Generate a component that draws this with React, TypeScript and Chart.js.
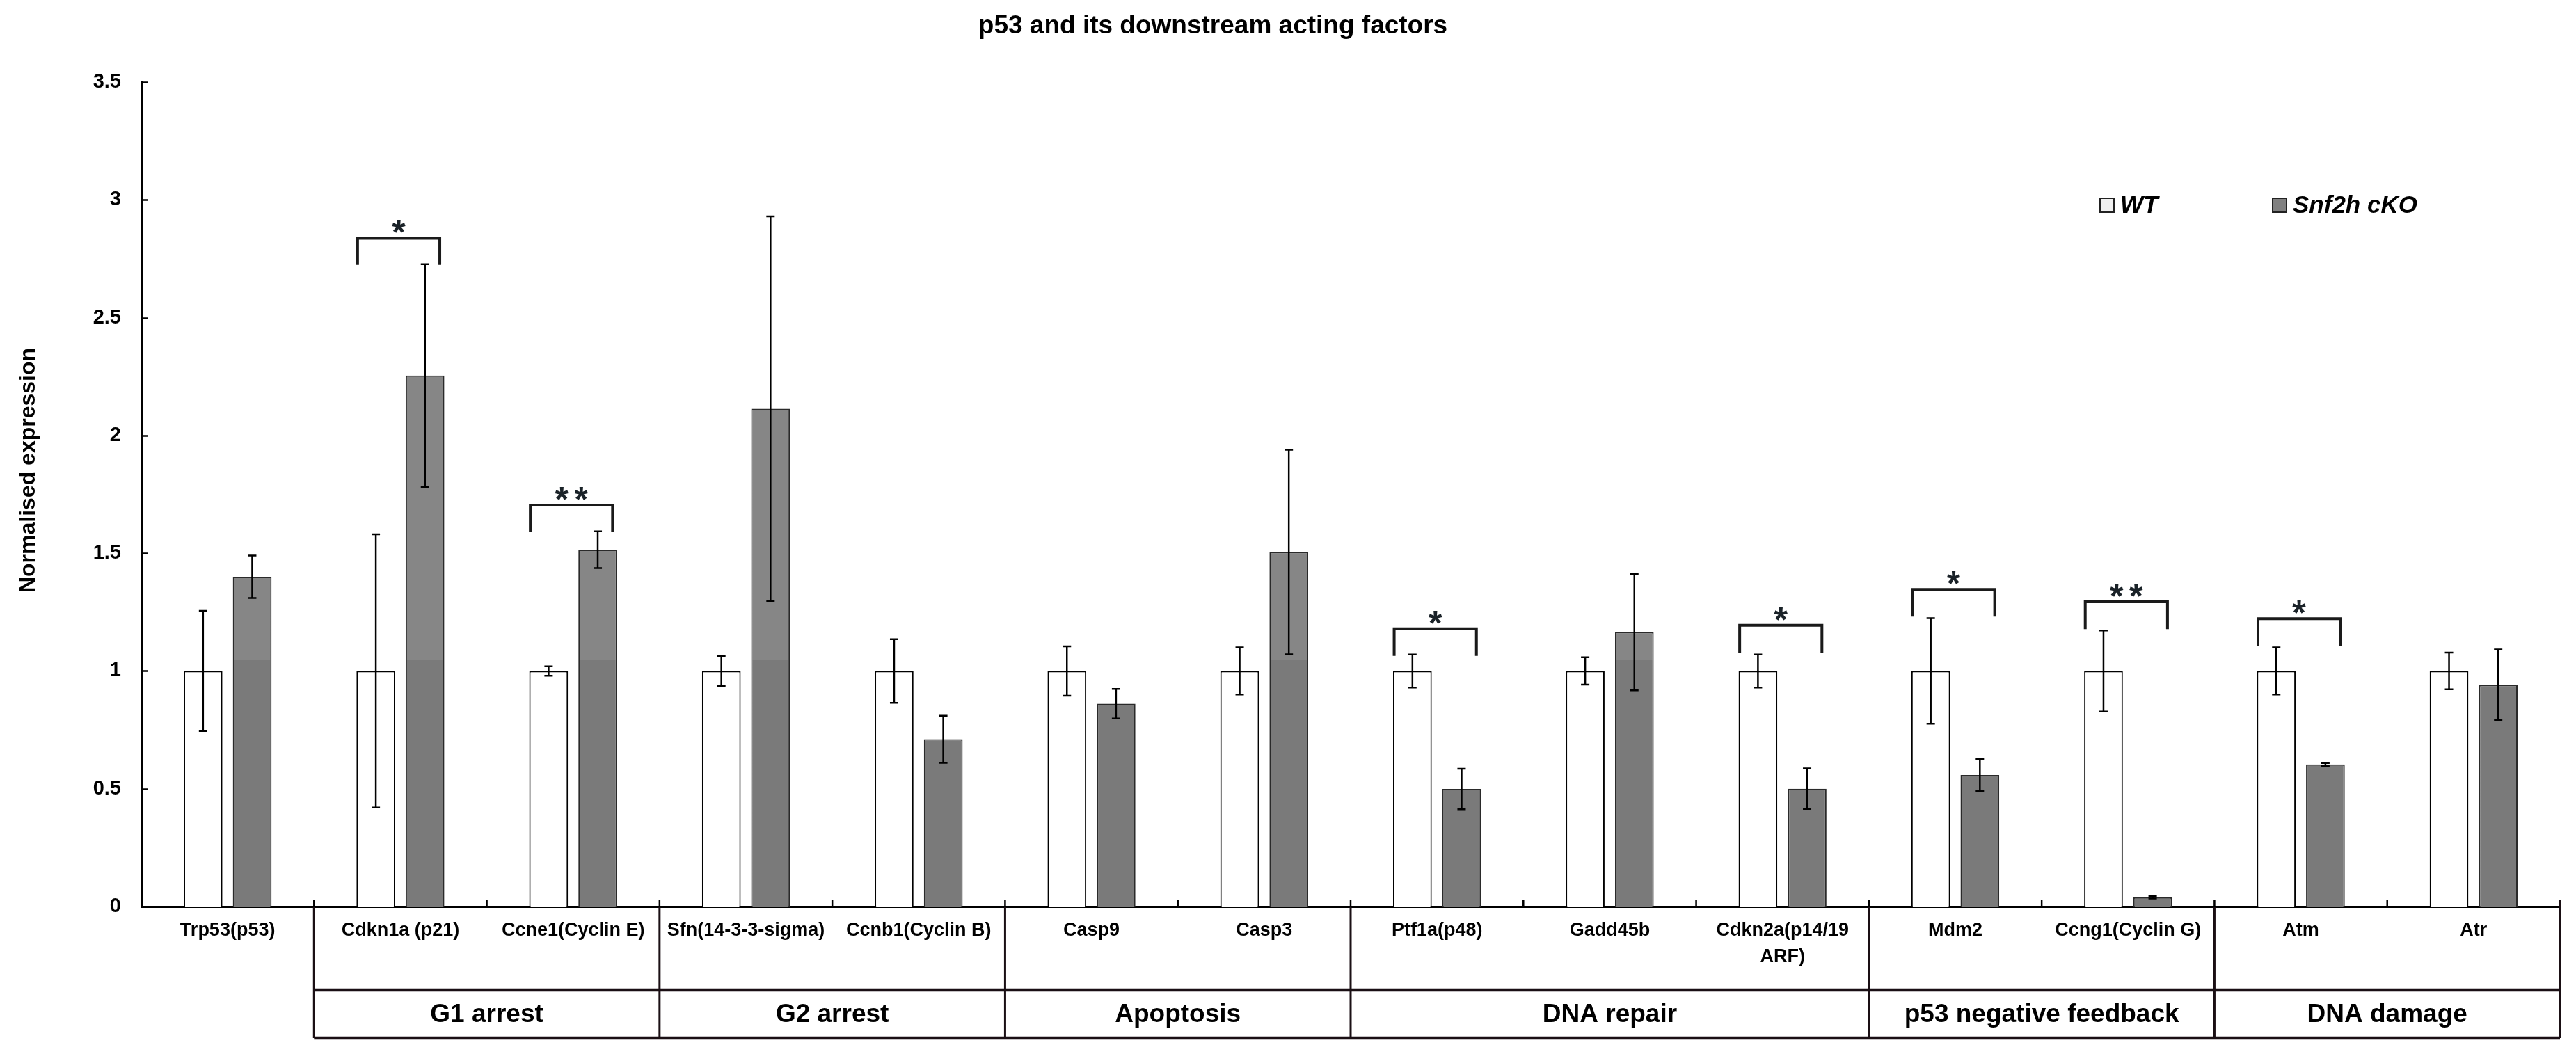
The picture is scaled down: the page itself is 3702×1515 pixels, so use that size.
import React, { useEffect, useRef } from 'react';
import { Chart, registerables } from 'chart.js';

Chart.register(...registerables);

// ---------- data ----------
const categories: (string | string[])[] = [
  'Trp53(p53)',
  'Cdkn1a (p21)',
  'Ccne1(Cyclin E)',
  'Sfn(14-3-3-sigma)',
  'Ccnb1(Cyclin B)',
  'Casp9',
  'Casp3',
  'Ptf1a(p48)',
  'Gadd45b',
  ['Cdkn2a(p14/19', 'ARF)'],
  'Mdm2',
  'Ccng1(Cyclin G)',
  'Atm',
  'Atr',
];

const wtValues = [1, 1, 1, 1, 1, 1, 1, 1, 1, 1, 1, 1, 1, 1];
const wtErrors = [0.255, 0.58, 0.02, 0.063, 0.135, 0.105, 0.1, 0.07, 0.058, 0.07, 0.224, 0.172, 0.1, 0.078];
const koValues = [1.4, 2.254, 1.515, 2.113, 0.71, 0.861, 1.505, 0.499, 1.165, 0.5, 0.558, 0.039, 0.603, 0.941];
const koErrors = [0.09, 0.473, 0.078, 0.817, 0.1, 0.063, 0.434, 0.086, 0.247, 0.086, 0.068, 0.005, 0.006, 0.15];

const yTicks = [0, 0.5, 1, 1.5, 2, 2.5, 3, 3.5];

const groupLabels = ['G1 arrest', 'G2 arrest', 'Apoptosis', 'DNA repair', 'p53 negative feedback', 'DNA damage'];
const groupFirst = [1, 3, 5, 7, 10, 12];
const groupLast = [2, 4, 6, 9, 11, 13];

const sigCategory = [1, 2, 7, 9, 10, 11, 12];
const sigMarks = ['*', '**', '*', '*', '*', '**', '*'];
const sigBracketTop = [2.837, 1.704, 1.179, 1.194, 1.346, 1.294, 1.222];
const sigBracketFoot = [2.724, 1.589, 1.064, 1.076, 1.231, 1.178, 1.107];

const titleText = 'p53 and its downstream acting factors';
const yTitleText = 'Normalised expression';
const seriesNames = ['WT', 'Snf2h cKO'];

// ---------- styles ----------
const FONT = "'Liberation Sans', Arial, Helvetica, sans-serif";
const W = 3702;
const H = 1515;
const koDark = '#7a7a7a';
const koLight = '#868686';
const shadeSplit = 1.045;

const errorBarPlugin = {
  id: 'errorBars',
  afterDatasetsDraw(chart: any) {
    const { ctx } = chart;
    const y = chart.scales.y;
    const errs = [wtErrors, koErrors];
    const cap = 6;
    chart.data.datasets.forEach((ds: any, di: number) => {
      const meta = chart.getDatasetMeta(di);
      meta.data.forEach((bar: any, i: number) => {
        const v = ds.data[i];
        const e = errs[di][i];
        const yt = y.getPixelForValue(v + e);
        const yb = y.getPixelForValue(v - e);
        ctx.save();
        ctx.strokeStyle = '#000';
        ctx.lineWidth = 2.5;
        ctx.beginPath();
        ctx.moveTo(bar.x, yt);
        ctx.lineTo(bar.x, yb);
        ctx.moveTo(bar.x - cap, yt);
        ctx.lineTo(bar.x + cap, yt);
        ctx.moveTo(bar.x - cap, yb);
        ctx.lineTo(bar.x + cap, yb);
        ctx.stroke();
        ctx.restore();
      });
    });
  },
};

const decorPlugin = {
  id: 'decor',
  afterDraw(chart: any) {
    const { ctx, chartArea } = chart;
    const x = chart.scales.x;
    const y = chart.scales.y;
    const n = categories.length;
    const cw = (chartArea.right - chartArea.left) / n;
    const left = chartArea.left;
    const bottom = chartArea.bottom;

    ctx.save();
    ctx.strokeStyle = '#000';
    ctx.fillStyle = '#000';

    // inward y ticks
    ctx.lineWidth = 2.5;
    ctx.beginPath();
    yTicks.forEach((v) => {
      const py = Math.round(y.getPixelForValue(v)) + 0.5;
      ctx.moveTo(left, py);
      ctx.lineTo(left + 10, py);
    });
    // inward x ticks at category boundaries
    for (let i = 1; i <= n; i++) {
      const px = left + i * cw;
      ctx.moveTo(px, bottom);
      ctx.lineTo(px, bottom - 9);
    }
    ctx.stroke();

    // group boxes
    const dividerY = bottom + 120;
    const boxBottom = bottom + 189;
    const boxLeft = left + groupFirst[0] * cw;
    const boxRight = left + (groupLast[groupLast.length - 1] + 1) * cw;
    ctx.strokeStyle = '#1a0f14';
    ctx.lineWidth = 3;
    ctx.beginPath();
    groupFirst.forEach((g) => {
      const px = left + g * cw;
      ctx.moveTo(px, bottom);
      ctx.lineTo(px, boxBottom);
    });
    ctx.moveTo(boxRight, bottom - 9);
    ctx.lineTo(boxRight, boxBottom);
    ctx.stroke();
    ctx.lineWidth = 4.5;
    ctx.beginPath();
    ctx.moveTo(boxLeft, dividerY);
    ctx.lineTo(boxRight, dividerY);
    ctx.moveTo(boxLeft, boxBottom);
    ctx.lineTo(boxRight, boxBottom);
    ctx.stroke();

    ctx.fillStyle = '#000';
    ctx.font = `bold 37px ${FONT}`;
    ctx.textAlign = 'center';
    ctx.textBaseline = 'middle';
    groupLabels.forEach((lab, gi) => {
      const xs = left + groupFirst[gi] * cw;
      const xe = left + (groupLast[gi] + 1) * cw;
      ctx.fillText(lab, (xs + xe) / 2, (dividerY + boxBottom) / 2 + 1);
    });

    // significance brackets
    ctx.strokeStyle = '#1a1a1a';
    ctx.lineWidth = 4;
    ctx.lineJoin = 'miter';
    sigCategory.forEach((ci, k) => {
      const cx = x.getPixelForValue(ci) - 0.01 * cw;
      const half = 0.238 * cw;
      const yt = y.getPixelForValue(sigBracketTop[k]);
      const yf = y.getPixelForValue(sigBracketFoot[k]);
      ctx.beginPath();
      ctx.moveTo(cx - half, yf);
      ctx.lineTo(cx - half, yt);
      ctx.lineTo(cx + half, yt);
      ctx.lineTo(cx + half, yf);
      ctx.stroke();
      ctx.font = `bold 50px ${FONT}`;
      ctx.textAlign = 'center';
      ctx.textBaseline = 'alphabetic';
      ctx.fillStyle = '#1a2228';
      const chars = sigMarks[k].split('');
      chars.forEach((ch, j) => {
        const sx = cx + (j - (chars.length - 1) / 2) * 28;
        ctx.fillText(ch, sx, yt + 9);
      });
    });

    // legend
    const legendX = [3018, 3266];
    const legendFill = ['#f0f0f0', '#808080'];
    const ly = 295;
    legendX.forEach((lx, i) => {
      ctx.fillStyle = legendFill[i];
      ctx.fillRect(lx, ly - 10, 20, 20);
      ctx.strokeStyle = '#222';
      ctx.lineWidth = 2;
      ctx.strokeRect(lx, ly - 10, 20, 20);
      ctx.fillStyle = '#000';
      ctx.font = `italic bold 35px ${FONT}`;
      ctx.textAlign = 'left';
      ctx.textBaseline = 'middle';
      ctx.fillText(seriesNames[i], lx + 29, ly + 1);
    });

    // chart title
    ctx.fillStyle = '#000';
    ctx.font = `bold 37px ${FONT}`;
    ctx.textAlign = 'center';
    ctx.textBaseline = 'middle';
    ctx.fillText(titleText, 1743, 38);

    // y axis title
    ctx.save();
    ctx.translate(41, 676);
    ctx.rotate(-Math.PI / 2);
    ctx.font = `bold 32px ${FONT}`;
    ctx.textAlign = 'center';
    ctx.textBaseline = 'middle';
    ctx.fillText(yTitleText, 0, 0);
    ctx.restore();

    ctx.restore();
  },
};

export default function App() {
  const canvasRef = useRef<HTMLCanvasElement | null>(null);

  useEffect(() => {
    const canvas = canvasRef.current;
    if (!canvas) return;
    const chart = new Chart(canvas, {
      type: 'bar',
      data: {
        labels: categories as any,
        datasets: [
          {
            label: seriesNames[0],
            data: wtValues,
            backgroundColor: '#ffffff',
            borderColor: '#000000',
            borderWidth: 2,
            categoryPercentage: 0.569,
            barPercentage: 0.788,
          },
          {
            label: seriesNames[1],
            data: koValues,
            backgroundColor: (c: any) => {
              const ch = c.chart;
              const area = ch.chartArea;
              if (!area) return koDark;
              const py = ch.scales.y.getPixelForValue(shadeSplit);
              const r = Math.min(1, Math.max(0, (area.bottom - py) / (area.bottom - area.top)));
              const g = ch.ctx.createLinearGradient(0, area.bottom, 0, area.top);
              g.addColorStop(0, koDark);
              g.addColorStop(r, koDark);
              g.addColorStop(r, koLight);
              g.addColorStop(1, koLight);
              return g;
            },
            borderColor: '#2a2a2a',
            borderWidth: 2,
            categoryPercentage: 0.569,
            barPercentage: 0.788,
          },
        ],
      },
      options: {
        responsive: false,
        animation: false,
        devicePixelRatio: 1,
        layout: { padding: { left: 0, right: 23, top: 118, bottom: 0 } },
        plugins: {
          legend: { display: false },
          title: { display: false },
          tooltip: { enabled: false },
        },
        scales: {
          x: {
            grid: { display: false, drawTicks: false, tickLength: 0 },
            border: { display: true, color: '#000', width: 3 },
            ticks: {
              color: '#000',
              autoSkip: false,
              maxRotation: 0,
              minRotation: 0,
              padding: 16,
              font: { family: FONT, size: 27, weight: 'bold', lineHeight: 1.4 },
            },
            afterFit: (s: any) => {
              s.height = 212;
            },
          },
          y: {
            min: 0,
            max: 3.5,
            grid: { display: false, drawTicks: false, tickLength: 0 },
            border: { display: true, color: '#000', width: 3 },
            afterBuildTicks: (s: any) => {
              s.ticks = yTicks.map((v) => ({ value: v }));
            },
            ticks: {
              color: '#000',
              padding: 29,
              font: { family: FONT, size: 29, weight: 'bold' },
              callback: (v: any) => String(v),
            },
            afterFit: (s: any) => {
              s.width = 203;
            },
          },
        },
      },
      plugins: [errorBarPlugin, decorPlugin],
    } as any);
    return () => chart.destroy();
  }, []);

  return (
    <div style={{ position: 'absolute', left: 0, top: 0, width: W, height: H, background: '#fff' }}>
      <canvas ref={canvasRef} width={W} height={H} style={{ width: W, height: H, display: 'block' }} />
    </div>
  );
}
